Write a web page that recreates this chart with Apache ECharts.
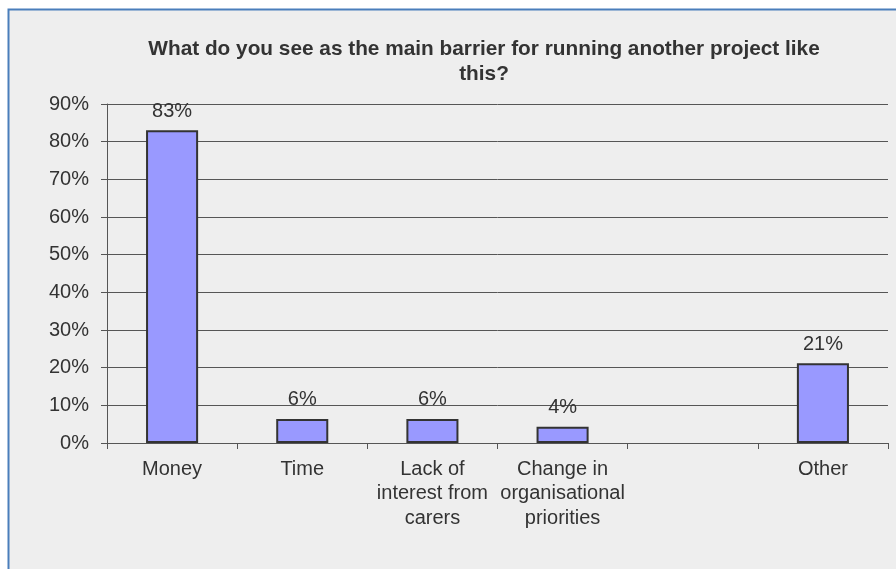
<!DOCTYPE html>
<html>
<head>
<meta charset="utf-8">
<script src="https://cdn.jsdelivr.net/npm/echarts@6/dist/echarts.min.js"></script>
<style>
  html, body { margin: 0; padding: 0; background: #fff; }
  #chart { width: 896px; height: 569px; }
</style>
</head>
<body>
<div id="chart"></div>
<script>
const categories = ['Money', 'Time', 'Lack of\ninterest from\ncarers', 'Change in\norganisational\npriorities', '', 'Other']
const values = [83, 6.4, 6.4, 4.3, null, 21.2]
const yTicks = [0, 10, 20, 30, 40, 50, 60, 70, 80, 90]

const FONT = 'Arial, "Liberation Sans", sans-serif'
const TEXT = '#333'

const chart = echarts.init(document.getElementById('chart'))

chart.setOption({
  animation: false,
  backgroundColor: '#fff',
  graphic: [
    {
      type: 'rect',
      z: -10,
      silent: true,
      shape: { x: 8.5, y: 9.5, width: 1000, height: 1000 },
      style: { fill: '#eeeeee', stroke: '#4a7ebb', lineWidth: 2 }
    }
  ],
  title: {
    text: 'What do you see as the main barrier for running another project like\nthis?',
    left: 479,
    top: 32,
    textAlign: 'center',
    textStyle: {
      fontFamily: FONT,
      fontSize: 20.8,
      fontWeight: 'bold',
      color: TEXT,
      lineHeight: 25
    }
  },
  grid: { left: 107, right: 8, top: 104, bottom: 126, containLabel: false },
  xAxis: {
    type: 'category',
    data: categories,
    boundaryGap: true,
    axisLine: { lineStyle: { color: '#555', width: 1 } },
    axisTick: { show: true, length: 6, interval: 0, lineStyle: { color: '#555' } },
    axisLabel: {
      interval: 0,
      margin: 14,
      fontFamily: FONT,
      fontSize: 20,
      lineHeight: 24.5,
      color: TEXT
    }
  },
  yAxis: {
    type: 'value',
    min: yTicks[0],
    max: yTicks[yTicks.length - 1],
    interval: 10,
    axisLine: { show: true, lineStyle: { color: '#555', width: 1 } },
    axisTick: { show: true, length: 6, lineStyle: { color: '#555' } },
    splitLine: { show: true, lineStyle: { color: '#555', width: 1 } },
    axisLabel: {
      margin: 18,
      fontFamily: FONT,
      fontSize: 20,
      color: TEXT,
      formatter: v => v + '%'
    }
  },
  series: [
    {
      type: 'bar',
      data: values,
      barWidth: '40%',
      itemStyle: { color: '#9999ff', borderColor: '#333', borderWidth: 2 },
      label: {
        show: true,
        position: 'top',
        distance: 9,
        fontFamily: FONT,
        fontSize: 20,
        color: TEXT,
        formatter: p => Math.round(p.value) + '%'
      }
    }
  ]
})
</script>
</body>
</html>
